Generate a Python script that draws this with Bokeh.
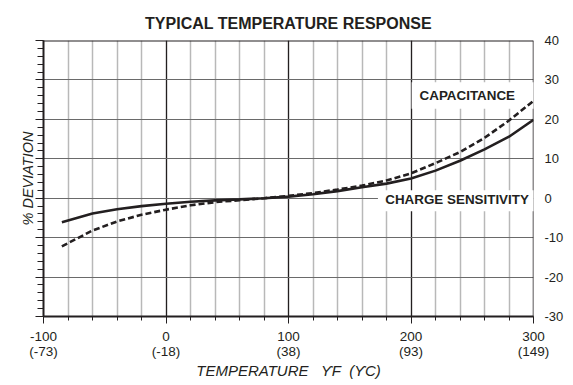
from bokeh.plotting import figure
from bokeh.models import Range1d, LinearAxis, SingleIntervalTicker, Span, BoxAnnotation, Label
from bokeh.embed import file_html
from bokeh.resources import INLINE

# ---- data ----
temp_f = [-85, -60, -40, -20, 0, 20, 40, 60, 80, 100, 120, 140, 160, 180, 200, 220, 240, 260, 280, 300]
charge_sensitivity = [-6.1, -3.9, -2.8, -2.0, -1.4, -0.9, -0.55, -0.3, 0.0, 0.4, 1.0, 1.8, 2.8, 3.7, 5.0, 7.0, 9.5, 12.4, 15.6, 19.9]
capacitance = [-12.2, -8.2, -5.9, -4.2, -2.9, -1.8, -1.0, -0.5, 0.0, 0.6, 1.3, 2.2, 3.2, 4.5, 6.3, 8.9, 11.7, 15.3, 19.7, 24.7]
x_ticks_f = [-100, 0, 100, 200, 300]
x_ticks_c = ["(-73)", "(-18)", "(38)", "(93)", "(149)"]
y_ticks = [-30, -20, -10, 0, 10, 20, 30, 40]

FONT = "Liberation Sans"
INK = "#231f20"
NB = "\u00a0"

p = figure(frame_width=490, frame_height=276,
           x_range=Range1d(-100, 300), y_range=Range1d(-30, 40),
           output_backend="svg", toolbar_location=None,
           min_border_left=43, min_border_right=39, min_border_top=40, min_border_bottom=68)
p.outline_line_color = None
p.background_fill_color = "white"

# title
p.title.text = "TYPICAL TEMPERATURE RESPONSE"
p.title.align = "center"
p.title.offset = -4
p.title.text_font = FONT
p.title.text_font_size = "16px"
p.title.text_font_style = "bold"
p.title.text_color = INK
p.title.text_line_height = 0.8
p.title.standoff = 18

# grids
xt = SingleIntervalTicker(interval=100, num_minor_ticks=5)
yt = SingleIntervalTicker(interval=10, num_minor_ticks=5)
p.xgrid.ticker = xt
p.xgrid.grid_line_color = INK
p.xgrid.grid_line_width = 1.2
p.xgrid.minor_grid_line_color = "#b8b8b8"
p.xgrid.minor_grid_line_width = 1.5
p.ygrid.ticker = SingleIntervalTicker(interval=10)
p.ygrid.grid_line_color = "#6a6a6a"
p.ygrid.grid_line_width = 1.2

# bottom axis
xa = p.xaxis[0]
xa.ticker = xt
xa.major_label_overrides = {f: f"{f}\n{c}" for f, c in zip(x_ticks_f, x_ticks_c)}
xa.major_label_text_font = FONT
xa.major_label_text_font_size = "13.5px"
xa.major_label_text_color = INK
xa.major_label_text_line_height = 1.05
xa.major_label_standoff = 5
xa.major_tick_out = 7
xa.major_tick_in = 0
xa.minor_tick_out = 4
xa.minor_tick_in = 0
xa.major_tick_line_color = INK
xa.minor_tick_line_color = INK
xa.axis_line_color = INK
xa.axis_line_width = 2
xa.axis_label = "TEMPERATURE" + NB * 3 + "\u03d2F" + NB * 2 + "(\u03d2C)"
xa.axis_label_text_font = FONT
xa.axis_label_text_font_size = "15px"
xa.axis_label_text_font_style = "italic"
xa.axis_label_text_color = INK
xa.axis_label_standoff = 0

# left axis (ticks only)
ya = p.yaxis[0]
ya.ticker = yt
ya.major_label_overrides = {v: "" for v in y_ticks}
ya.major_label_standoff = 0
ya.major_tick_out = 8
ya.major_tick_in = 0
ya.minor_tick_out = 6
ya.minor_tick_in = 0
ya.major_tick_line_color = INK
ya.minor_tick_line_color = INK
ya.axis_line_color = INK
ya.axis_line_width = 2
ya.axis_label = "% DEVIATION"
ya.axis_label_text_font = FONT
ya.axis_label_text_font_size = "14.5px"
ya.axis_label_text_font_style = "italic"
ya.axis_label_text_color = INK
ya.axis_label_standoff = 0

# right axis (labels only)
ra = LinearAxis(ticker=SingleIntervalTicker(interval=10, num_minor_ticks=0))
ra.major_label_overrides = {v: str(v) for v in y_ticks}
ra.major_label_text_font = FONT
ra.major_label_text_font_size = "13px"
ra.major_label_text_color = INK
ra.major_label_standoff = 11
ra.major_tick_out = 0
ra.major_tick_in = 0
ra.minor_tick_out = 0
ra.minor_tick_in = 0
ra.axis_line_color = None
p.add_layout(ra, "right")

# borders
p.add_layout(Span(location=40, dimension="width", line_color=INK, line_width=2))
p.add_layout(Span(location=300, dimension="height", line_color=INK, line_width=1.5, level="underlay"))

# white label boxes (under the curves)
p.add_layout(BoxAnnotation(left=200.5, right=303, bottom=22.7, top=29.4, fill_color="white",
                           fill_alpha=1, line_color=None, level="underlay"))
p.add_layout(BoxAnnotation(left=173, right=303, bottom=-3.3, top=2.0, fill_color="white",
                           fill_alpha=1, line_color=None, level="underlay"))

# curves
p.line(temp_f, charge_sensitivity, line_color=INK, line_width=2.6)
p.line(temp_f, capacitance, line_color=INK, line_width=2.6, line_dash="6 3")

for x, y, t in [(207, 26.0, "CAPACITANCE"), (179, -0.4, "CHARGE SENSITIVITY")]:
    p.add_layout(Label(x=x, y=y, text=t, text_align="left", text_baseline="middle",
                       text_font=FONT, text_font_size="13.4px", text_font_style="bold",
                       text_color=INK))

open("out.html", "w").write(file_html(p, INLINE))
